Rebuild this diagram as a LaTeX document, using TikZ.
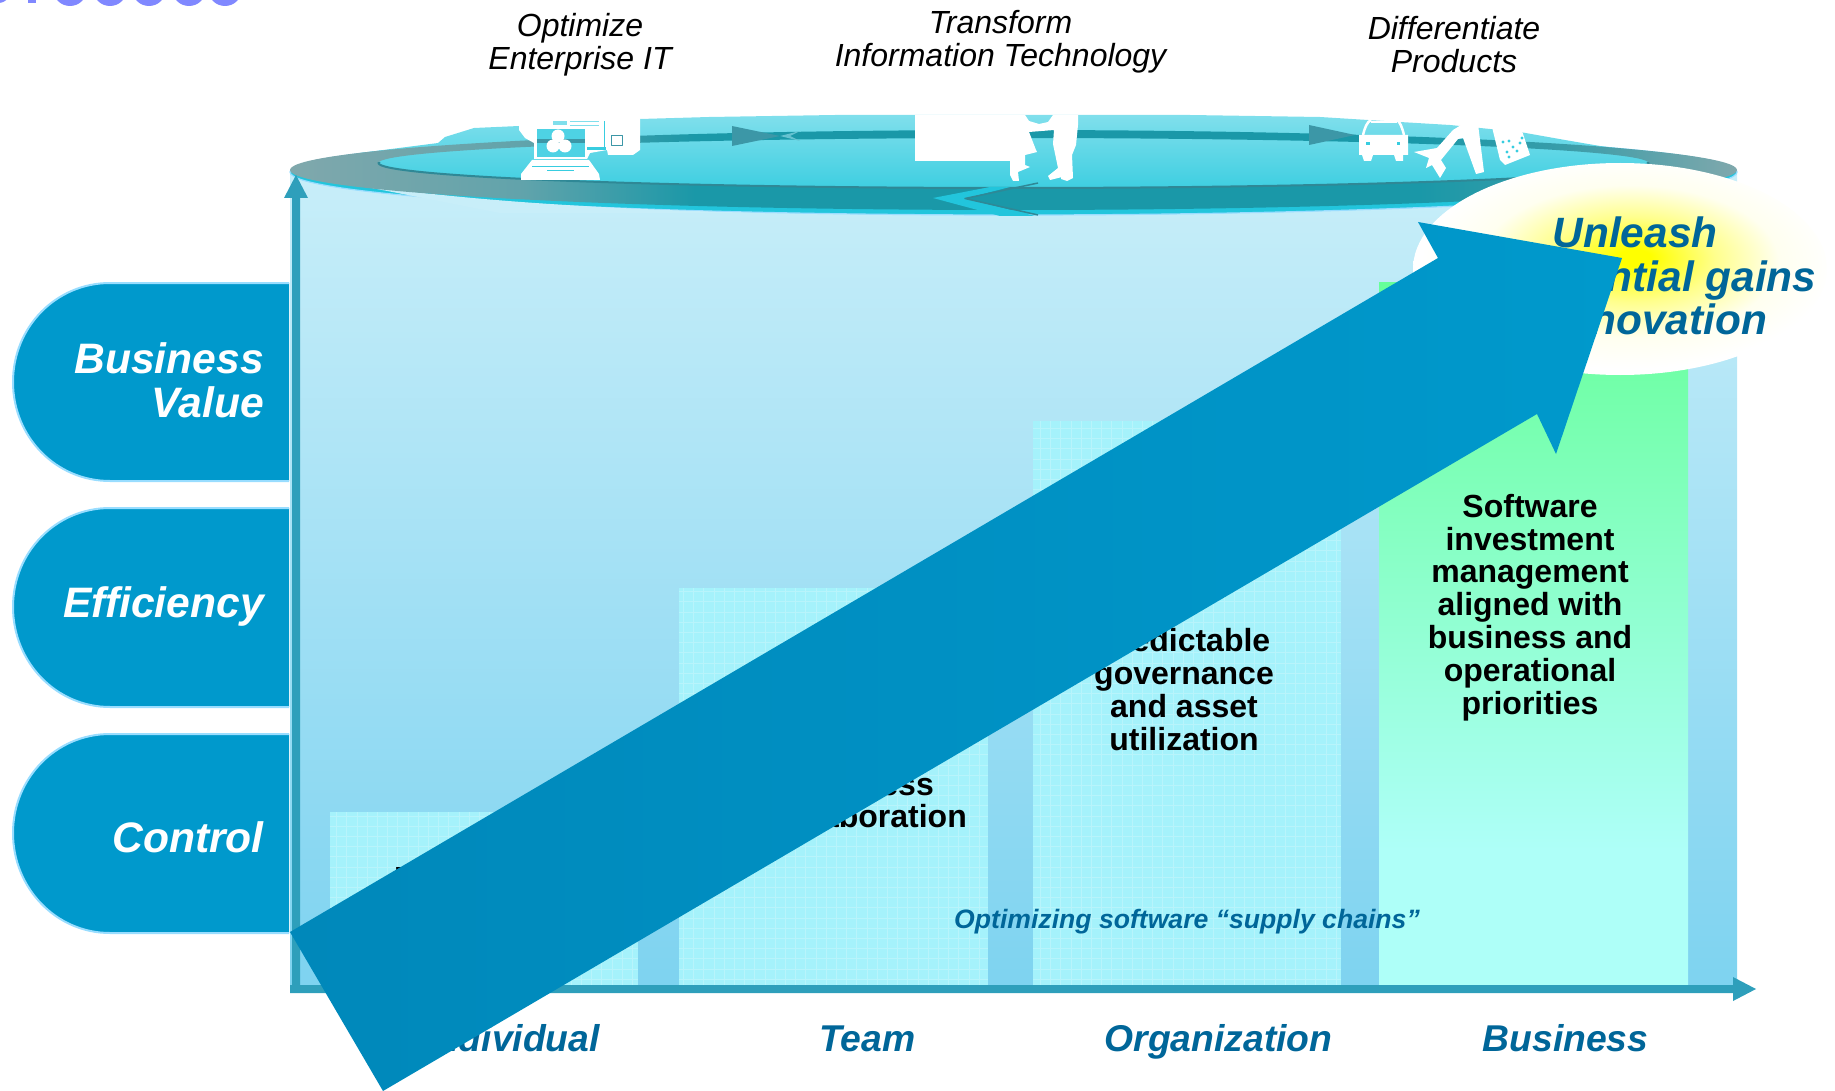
\documentclass[tikz,border=0pt]{standalone}
\usepackage{fontspec}
\setmainfont{Liberation Sans}
\usetikzlibrary{calc}
\definecolor{pillblue}{HTML}{0099CC}
\definecolor{pilledge}{HTML}{99DDFF}
\definecolor{axisteal}{HTML}{2E9FBB}
\definecolor{labelblue}{HTML}{006699}
\definecolor{bodytop}{HTML}{C8EEF9}
\definecolor{bodybot}{HTML}{7ED3F0}
\definecolor{barfill}{HTML}{A5F2FB}
\definecolor{greentop}{HTML}{66FF99}
\definecolor{greenbot}{HTML}{AEFFF8}
\definecolor{discTop}{HTML}{80DFEC}
\definecolor{discBot}{HTML}{38CDE0}
\definecolor{ringDark}{HTML}{1A98A8}
\definecolor{ringGrey}{HTML}{80A8AC}
\definecolor{ringBand}{HTML}{3C97A7}
\definecolor{ringLine}{HTML}{2F8896}
\definecolor{rimCyan}{HTML}{22C5DC}
\definecolor{bigLow}{HTML}{0088BA}
\definecolor{topBlue}{HTML}{8088FF}
\pgfdeclareverticalshading{greenbar}{100bp}{color(0bp)=(greenbot); color(34.6bp)=(greenbot); color(75bp)=(greentop); color(100bp)=(greentop)}
\pgfdeclarehorizontalshading{ringshade}{100bp}{color(0bp)=(ringGrey); color(25bp)=(ringGrey); color(33bp)=(ringGrey!70!ringDark); color(39bp)=(ringDark); color(64bp)=(ringDark); color(69bp)=(ringDark!70!ringGrey); color(75bp)=(ringGrey); color(100bp)=(ringGrey)}
\pgfdeclareradialshading{glow}{\pgfpoint{1.8bp}{2.8bp}}{color(0bp)=(yellow); color(2bp)=(yellow); color(10bp)=(yellow!45!white); color(18bp)=(yellow!6!white); color(25bp)=(white); color(50bp)=(white)}
\tikzset{
  pill/.style={fill=pillblue,draw=pilledge,line width=2pt},
  pilltext/.style={text=white,font=\fontsize{42.6}{43.5}\selectfont\bfseries\itshape,align=right,inner sep=0pt,anchor=base east},
  toptext/.style={text=black,font=\fontsize{32}{33}\selectfont\itshape,align=center,inner sep=0pt,anchor=base},
  axistext/.style={text=labelblue,font=\fontsize{37.3}{38}\selectfont\bfseries\itshape,inner sep=0pt},
  bartext/.style={text=black,font=\fontsize{32}{32.8}\selectfont\bfseries,align=center,inner sep=0pt},
  hardbar/.style={fill=barfill},
  gridline/.style={draw=white,draw opacity=.22,line width=.8pt},
  sil/.style={fill=white},
  cut/.style={fill=discBot!70!discTop},
  axisfill/.style={fill=axisteal},
}
\begin{document}
\begin{tikzpicture}[x=1pt,y=-1pt,line join=round]
\useasboundingbox (0,0) rectangle (1835,1091);
% cut-off heading at the very top
\foreach \cx in {70,110,149,189,225}{\fill[topBlue] (\cx,-11) circle[radius=17pt];}
\fill[topBlue] (-2,-11) circle[radius=14pt];
\fill[topBlue] (28,-6) rectangle (36,3);
% cylinder body
\shade[top color=bodytop,bottom color=bodybot] (290,172) rectangle (1737,985);
% bars
\fill[hardbar] (330,812) rectangle (638,985);
\draw[gridline,step=10.2pt] (330,812) grid (638,985);
\fill[hardbar] (679,588) rectangle (988,985);
\draw[gridline,step=10.2pt] (679,588) grid (988,985);
\fill[hardbar] (1033,421) rectangle (1341,985);
\draw[gridline,step=10.2pt] (1033,421) grid (1341,985);
\shade[shading=greenbar] (1379,282) rectangle (1688,985);
% disc rim
\fill[rimCyan] (1013.5,172) ellipse[x radius=723.5pt,y radius=43pt];
\draw[pilledge,line width=1.2pt] (1013.5,172) ellipse[x radius=723.5pt,y radius=43pt];
\fill[bodytop] (290,172) .. controls (400,196) and (560,208) .. (760,213) -- (500,213) -- cycle;
% disc surface
\shade[top color=discTop,bottom color=discBot]
  (290,172) -- (360,153) -- (438,143) -- (445,137) -- (474,128) -- (519,126) -- (560,121)
  -- (640,119) -- (709,117) -- (835,115) -- (1190,115) -- (1320,117) -- (1400,122)
  -- (1450,125) -- (1520,132) -- (1565,140) -- (1600,146) -- (1680,156) -- (1735,170)
  -- (1650,175) -- (1013,195) -- (378,175) -- cycle;
% ring
\shade[shading=ringshade,even odd rule]
  (1013.5,170) ellipse[x radius=723.5pt,y radius=40pt]
  (1013.5,163) ellipse[x radius=635pt,y radius=25pt];
\begin{scope}
  \clip (370,163) rectangle (1660,195);
  \draw[ringLine,line width=2pt] (1013.5,163) ellipse[x radius=635pt,y radius=25pt];
\end{scope}
% ring arrows
\fill[ringBand] (732,126) -- (780,136) -- (732,146) -- cycle;
\fill[discTop!60!ringBand] (780,136) -- (800,131) -- (790,136) -- (800,141) -- cycle;
\fill[ringBand] (1309,125) -- (1355,135) -- (1309,145) -- cycle;
\fill[rimCyan] (933,198) -- (990,187) -- (1010,187) -- (965,198.5) -- (1035,216) -- (1000,216) -- cycle;
\draw[ringLine,line width=1.5pt] (1038,183) -- (965,198.5) -- (1038,215);
% laptop and documents
\fill[sil] (519,110) -- (640,110) -- (640,150) -- (633,155) -- (608,155) -- (607,150) -- (590,153)
  -- (587,159) -- (534,159) -- (534,143) -- (525,138) -- (519,130) -- cycle;
\fill[cut] (537,129) rectangle (585,157);
\fill[ringBand] (537,139) rectangle (585,143);
\fill[sil] (558,136) circle[radius=6.5pt] (553,146) circle[radius=6.5pt] (565,146) circle[radius=6.5pt];
\fill[discTop] (553,121) rectangle (567,125);
\fill[discTop] (570,121) rectangle (599,122);
\fill[discTop] (570,125) rectangle (599,126);
\draw[discBot,line width=1pt] (604,121) -- (604,150);
\draw[ringBand,line width=1pt] (611,136) rectangle (622,146);
\fill[discBot] (587,147) rectangle (606,150);
\fill[sil] (532,160) -- (589,160) -- (599,174) -- (600,180) -- (521,180) -- (521,174) -- cycle;
\draw[discBot,line width=1pt] (532,167) -- (589,167);
\draw[discBot,line width=1pt] (547,170.5) -- (574,170.5);
% people and screen block
\fill[sil] (915,115) -- (1025,115) -- (1029,121) -- (1039,124) -- (1048,122) -- (1053,115) -- (1078,115)
  -- (1078,125) -- (1076,145) -- (1072,155) -- (1073,178) -- (1067,181) -- (1061,179) -- (1063,166)
  -- (1062,177) -- (1050,180) -- (1048,176) -- (1058,168) -- (1053,144) -- (1054,130) -- (1029,132)
  -- (1036,150) -- (1037,152) -- (1025,155) -- (1025,165) -- (1030,167) -- (1018,172) -- (1019,181)
  -- (1013,181) -- (1010,175) -- (1010,161) -- (915,161) -- cycle;
% car
\fill[sil] (1359,135) -- (1408,135) -- (1408,155) -- (1403,155) -- (1403,161) -- (1396,161) -- (1394,155)
  -- (1373,155) -- (1371,161) -- (1364,161) -- (1362,155) -- (1359,155) -- cycle;
\draw[white,line width=2.5pt] (1363,135) .. controls (1365,127) and (1367,122) .. (1371,120);
\draw[white,line width=2.5pt] (1404,135) .. controls (1402,127) and (1400,122) .. (1397,120);
\draw[white,line width=2pt] (1371,122) -- (1397,122);
\fill[discBot] (1366,142) rectangle (1370,145);
\fill[discBot] (1397,142) rectangle (1400,145);
% plane
\fill[sil] (1414,152) -- (1437,148) -- (1453,130) -- (1466,122) -- (1478,124) -- (1484,172) -- (1476,174)
  -- (1463,138) -- (1458,139) -- (1441,160) -- (1446,168) -- (1440,178) -- (1432,165) -- (1426,168) -- (1429,158) -- cycle;
% phone
\fill[sil] (1492,127) -- (1520,125) -- (1530,155) -- (1505,165) -- (1500,160) -- cycle;
\foreach \px/\py in {1503/142,1509/141,1520/143,1513/147,1507/152,1517/151,1509/157,1522/138}{\fill[discBot] (\px,\py) circle[radius=1.7pt];}
% glow ellipse
\shade[shading=glow] (1620,269) ellipse[x radius=207pt,y radius=106pt];
% axes
\fill[axisfill] (292,985) -- (292,198) -- (284,198) -- (296,175) -- (308,198) -- (300,198) -- (300,985) -- cycle;
\fill[axisfill] (290,985) -- (1733,985) -- (1733,977) -- (1756,989) -- (1733,1001) -- (1733,993) -- (290,993) -- cycle;
% pills
\draw[pill] (289,283) -- (110,283) .. controls (56,283) and (13,327) .. (13,382) .. controls (13,437) and (56,481) .. (110,481) -- (289,481);
\draw[pill] (289,508) -- (110,508) .. controls (56,508) and (13,552) .. (13,607) .. controls (13,662) and (56,707) .. (110,707) -- (289,707);
\draw[pill] (289,734) -- (110,734) .. controls (56,734) and (13,778) .. (13,833) .. controls (13,888) and (56,933) .. (110,933) -- (289,933);
\node[pilltext] (bv) at (264,417) {Business\\Value};
\node[pilltext] (eff) at (264,617) {Efficiency};
\node[pilltext] (ctl) at (264,852) {Control};
% top labels
\node[toptext] (opt) at (580,69.5) {Optimize\\Enterprise IT};
\node[toptext] (trans) at (1000.5,66.5) {Transform\\Information Technology};
\node[toptext] (diff) at (1454,73) {Differentiate\\Products};
% axis labels
\node[axistext,anchor=base east] (ind) at (600,1051) {Individual};
\node[axistext,anchor=base] (team) at (867.5,1051) {Team};
\node[axistext,anchor=base] (org) at (1218.5,1051) {Organization};
\node[axistext,anchor=base] (bus) at (1565.5,1051) {Business};
% bar texts
\node[bartext,anchor=base west] (b1) at (394,889) {Productivity};
\node[bartext,anchor=base east] (b2a) at (934,795) {Process};
\node[bartext,anchor=base east] (b2b) at (967,827.5) {and collaboration};
\node[bartext,anchor=base] (b3) at (1184,750) {Predictable\\governance\\and asset\\utilization};
\node[bartext,anchor=base] (b4) at (1530,714) {Software\\investment\\management\\aligned with\\business and\\operational\\priorities};
\node[text=labelblue,font=\fontsize{26.6}{27}\selectfont\bfseries\itshape,inner sep=0pt,anchor=base] (opts) at (1187,928.5) {Optimizing software “supply chains”};
% unleash
\node[text=labelblue,font=\fontsize{42.4}{43.5}\selectfont\bfseries\itshape,align=center,inner sep=0pt,anchor=base] (unl) at (1635,334.5) {Unleash\\Exponential gains\\in innovation};
% big arrow
\shade[left color=bigLow,right color=pillblue]
  (290,932) -- (1438,258) -- (1418,222) -- (1622,258) -- (1556,454) -- (1537,414) -- (383,1091) -- cycle;
\end{tikzpicture}
\end{document}
